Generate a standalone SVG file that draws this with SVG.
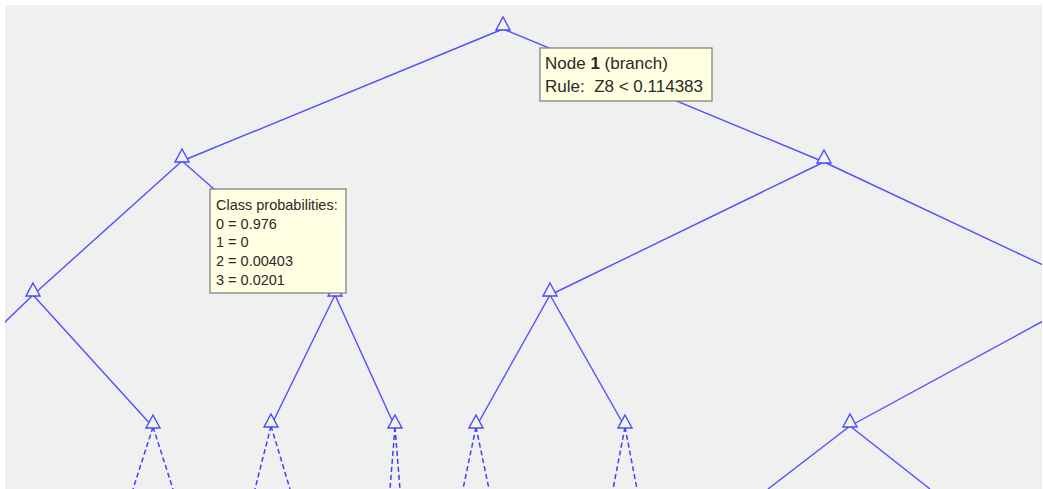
<svg xmlns="http://www.w3.org/2000/svg" width="1043" height="489" viewBox="0 0 1043 489">
<style>
.e{stroke:#5050ff;stroke-width:1.4;fill:none}
.d{stroke:#4040ff;stroke-width:1.5;fill:none;stroke-dasharray:5 3}
.n{stroke:#4a4aff;stroke-width:1.4;fill:#f4f4e4}
.tip{fill:#ffffe1;stroke:#7a7a7a;stroke-width:1.2}
.t{font-family:"Liberation Sans",Arial,sans-serif;fill:#2a2a2a}
</style>
<defs>
<clipPath id="cp"><rect x="5" y="5" width="1037" height="484"/></clipPath>
<path id="tri" d="M0,-12 L7,1 L-7,1 Z"/>
</defs>
<rect width="1043" height="489" fill="#ffffff"/>
<rect x="5" y="5" width="1037" height="484" fill="#f0f0f0"/>
<g id="connectors" clip-path="url(#cp)">
<line class="e" x1="503" y1="29" x2="182" y2="161"/>
<line class="e" x1="503" y1="29" x2="824" y2="162"/>
<line class="e" x1="182" y1="161" x2="33" y2="295"/>
<line class="e" x1="182" y1="161" x2="335" y2="295"/>
<line class="e" x1="824" y1="162" x2="550" y2="295"/>
<line class="e" x1="824" y1="162" x2="1045" y2="266"/>
<line class="e" x1="33" y1="295" x2="3" y2="324"/>
<line class="e" x1="33" y1="295" x2="153" y2="427"/>
<line class="e" x1="335" y1="295" x2="271" y2="426"/>
<line class="e" x1="335" y1="295" x2="395" y2="427"/>
<line class="e" x1="550" y1="295" x2="476" y2="427"/>
<line class="e" x1="550" y1="295" x2="625" y2="427"/>
<line class="e" x1="1045" y1="320" x2="850" y2="426"/>
<line class="e" x1="850" y1="426" x2="768" y2="489"/>
<line class="e" x1="850" y1="426" x2="930" y2="489"/>
<line class="d" x1="153" y1="427" x2="133" y2="489"/>
<line class="d" x1="153" y1="427" x2="173" y2="489"/>
<line class="d" x1="271" y1="426" x2="255" y2="489"/>
<line class="d" x1="271" y1="426" x2="290" y2="489"/>
<line class="d" x1="395" y1="427" x2="390" y2="489"/>
<line class="d" x1="395" y1="427" x2="400" y2="489"/>
<line class="d" x1="476" y1="427" x2="463" y2="489"/>
<line class="d" x1="476" y1="427" x2="489" y2="489"/>
<line class="d" x1="625" y1="427" x2="613" y2="489"/>
<line class="d" x1="625" y1="427" x2="637" y2="489"/>
</g>
<g id="node1"><use href="#tri" class="n" x="503" y="29"/></g>
<g id="node2"><use href="#tri" class="n" x="182" y="161"/></g>
<g id="node3"><use href="#tri" class="n" x="824" y="162"/></g>
<g id="node4"><use href="#tri" class="n" x="33" y="295"/></g>
<g id="node5"><use href="#tri" class="n" x="335" y="295"/></g>
<g id="node6"><use href="#tri" class="n" x="550" y="295"/></g>
<g id="node8"><use href="#tri" class="n" x="153" y="427"/></g>
<g id="node9"><use href="#tri" class="n" x="271" y="426"/></g>
<g id="node10"><use href="#tri" class="n" x="395" y="427"/></g>
<g id="node11"><use href="#tri" class="n" x="476" y="427"/></g>
<g id="node12"><use href="#tri" class="n" x="625" y="427"/></g>
<g id="node13"><use href="#tri" class="n" x="850" y="426"/></g>
<g id="tooltip-node1">
<rect class="tip" x="540" y="48" width="172" height="53"/>
<text class="t" x="545" y="69" font-size="17">Node <tspan font-weight="bold">1</tspan> (branch)</text>
<text class="t" x="545" y="92" font-size="17" xml:space="preserve">Rule:  Z8 &lt; 0.114383</text>
</g>
<g id="tooltip-class">
<rect class="tip" x="210" y="189" width="136" height="104"/>
<text class="t" font-size="14.5" x="216">
<tspan x="216" y="210">Class probabilities:</tspan>
<tspan x="216" y="229">0 = 0.976</tspan>
<tspan x="216" y="247">1 = 0</tspan>
<tspan x="216" y="266">2 = 0.00403</tspan>
<tspan x="216" y="285">3 = 0.0201</tspan>
</text>
</g>
</svg>
